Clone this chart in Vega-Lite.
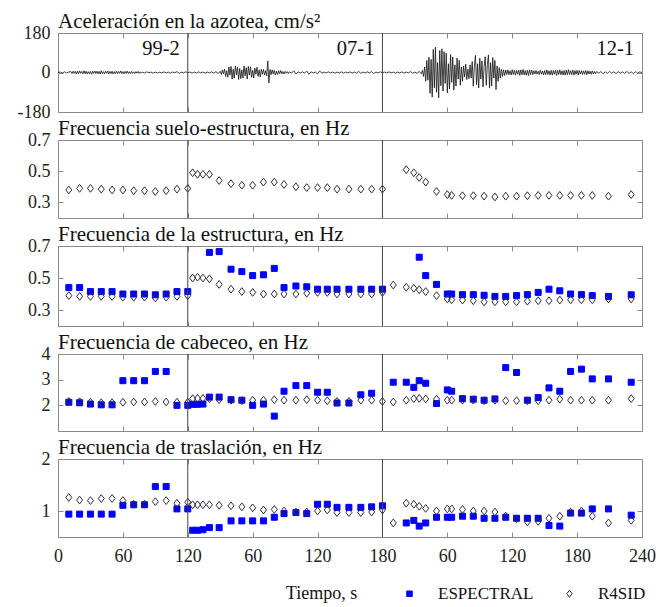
{
"$schema":"https://vega.github.io/schema/vega-lite/v6.json",
"padding":{"left":16,"top":10,"right":5,"bottom":5},
"background":"white",
"bounds":"flush",
"spacing":28,
"config":{
 "font":"Liberation Serif",
 "view":{"stroke":"#8a8a8a","strokeWidth":1},
 "axis":{"labelFont":"Liberation Serif","labelFontSize":18,"labelColor":"#222","tickColor":"#8a8a8a","tickSize":-5,"labelPadding":13,"domain":false,"grid":false,"titleFont":"Liberation Serif"},
 "title":{"font":"Liberation Serif","fontSize":21,"fontWeight":"normal","anchor":"start","frame":"group","color":"#111","offset":-8},
 "legend":{"labelFont":"Liberation Serif"}
},
"datasets":{
 "div":[{"t":120},{"t":300}],
 "rec":[{"end":120,"rec":"99-2"},{"end":300,"rec":"07-1"},{"end":540,"rec":"12-1"}],
 "acc":[
{"t":0,"a":0},{"t":2,"a":2},{"t":4,"a":-2},{"t":6,"a":3},{"t":8,"a":-2},{"t":10,"a":2},
{"t":12,"a":4},{"t":13,"a":-5},{"t":14,"a":6},{"t":15,"a":-4},{"t":16,"a":5},{"t":17,"a":-7},{"t":18,"a":6},{"t":19,"a":-5},{"t":20,"a":7},{"t":21,"a":-4},{"t":22,"a":5},{"t":23,"a":-6},{"t":24,"a":8},{"t":25,"a":-5},{"t":26,"a":6},{"t":27,"a":-7},{"t":28,"a":4},{"t":29,"a":-6},{"t":30,"a":5},{"t":31,"a":-8},{"t":32,"a":6},{"t":33,"a":-4},{"t":34,"a":7},{"t":35,"a":-5},{"t":36,"a":6},{"t":37,"a":-6},{"t":38,"a":5},{"t":39,"a":-7},{"t":40,"a":8},{"t":41,"a":-5},{"t":42,"a":4},{"t":43,"a":-6},{"t":44,"a":6},{"t":45,"a":-4},{"t":46,"a":7},{"t":47,"a":-6},{"t":48,"a":5},{"t":49,"a":-5},{"t":50,"a":6},{"t":51,"a":-7},{"t":52,"a":4},{"t":53,"a":-5},{"t":54,"a":6},{"t":55,"a":-6},{"t":56,"a":5},{"t":57,"a":-4},{"t":58,"a":7},{"t":59,"a":-5},{"t":60,"a":4},{"t":61,"a":-6},{"t":62,"a":5},{"t":63,"a":-4},{"t":64,"a":6},{"t":65,"a":-5},{"t":66,"a":4},{"t":67,"a":-6},{"t":68,"a":5},{"t":69,"a":-4},{"t":70,"a":3},{"t":71,"a":-5},{"t":72,"a":4},{"t":73,"a":-3},{"t":74,"a":5},{"t":75,"a":-4},{"t":76,"a":3},{"t":77,"a":-3},
{"t":78,"a":2},{"t":80,"a":-2},{"t":82,"a":3},{"t":84,"a":-1},{"t":86,"a":2},{"t":88,"a":-3},{"t":90,"a":2},{"t":92,"a":-2},{"t":94,"a":1},{"t":96,"a":-2},{"t":98,"a":3},{"t":100,"a":-2},{"t":102,"a":2},{"t":104,"a":-3},{"t":106,"a":2},{"t":108,"a":-1},{"t":110,"a":4},{"t":112,"a":-4},{"t":114,"a":2},{"t":116,"a":-2},{"t":118,"a":3},{"t":120,"a":-1},
{"t":122,"a":2},{"t":124,"a":-3},{"t":126,"a":2},{"t":128,"a":-2},{"t":130,"a":3},{"t":132,"a":-2},{"t":134,"a":2},{"t":136,"a":-3},{"t":138,"a":2},{"t":140,"a":-2},{"t":142,"a":3},{"t":144,"a":-3},{"t":146,"a":4},{"t":148,"a":-4},
{"t":150,"a":5},{"t":151,"a":-9},{"t":152,"a":12},{"t":153,"a":-6},{"t":154,"a":15},{"t":155,"a":-18},{"t":156,"a":8},{"t":157,"a":-22},{"t":158,"a":25},{"t":159,"a":-12},{"t":160,"a":28},{"t":161,"a":-30},{"t":162,"a":15},{"t":163,"a":-26},{"t":164,"a":30},{"t":165,"a":-10},{"t":166,"a":24},{"t":167,"a":-32},{"t":168,"a":18},{"t":169,"a":-28},{"t":170,"a":12},{"t":171,"a":-25},{"t":172,"a":30},{"t":173,"a":-15},{"t":174,"a":22},{"t":175,"a":-30},{"t":176,"a":28},{"t":177,"a":-12},{"t":178,"a":26},{"t":179,"a":-22},{"t":180,"a":10},{"t":181,"a":-25},{"t":182,"a":20},{"t":183,"a":-8},{"t":184,"a":24},{"t":185,"a":-18},{"t":186,"a":12},{"t":187,"a":-20},{"t":188,"a":15},{"t":189,"a":-8},{"t":190,"a":14},{"t":191,"a":-12},{"t":192,"a":8},{"t":193,"a":-15},{"t":194,"a":52},{"t":195,"a":-48},{"t":196,"a":14},{"t":197,"a":-10},{"t":198,"a":12},{"t":199,"a":-6},{"t":200,"a":10},{"t":201,"a":-12},{"t":202,"a":6},{"t":203,"a":-9},{"t":204,"a":8},{"t":205,"a":-5},{"t":206,"a":9},{"t":207,"a":-6},{"t":208,"a":4},{"t":209,"a":-7},{"t":210,"a":5},{"t":211,"a":-3},{"t":212,"a":4},{"t":213,"a":-5},{"t":214,"a":3},
{"t":216,"a":-3},{"t":218,"a":8},{"t":220,"a":-7},{"t":222,"a":3},{"t":224,"a":-2},{"t":226,"a":3},{"t":228,"a":-3},{"t":230,"a":7},{"t":232,"a":-8},{"t":234,"a":3},{"t":236,"a":-2},{"t":238,"a":2},{"t":240,"a":-6},{"t":242,"a":7},{"t":244,"a":-3},{"t":246,"a":2},{"t":248,"a":-2},{"t":250,"a":3},{"t":252,"a":-2},{"t":254,"a":2},{"t":256,"a":-3},{"t":258,"a":2},{"t":260,"a":-2},{"t":262,"a":3},{"t":264,"a":-3},{"t":266,"a":2},{"t":268,"a":-2},{"t":270,"a":3},{"t":272,"a":-2},{"t":274,"a":2},{"t":276,"a":-3},{"t":278,"a":5},{"t":280,"a":-4},{"t":282,"a":2},{"t":284,"a":-2},{"t":286,"a":3},{"t":288,"a":-2},{"t":290,"a":4},{"t":292,"a":-5},{"t":294,"a":2},{"t":296,"a":-2},{"t":298,"a":3},{"t":300,"a":-1},
{"t":302,"a":2},{"t":304,"a":-2},{"t":306,"a":3},{"t":308,"a":-2},{"t":310,"a":2},{"t":312,"a":-3},{"t":314,"a":2},{"t":316,"a":-2},{"t":318,"a":3},{"t":320,"a":-3},{"t":322,"a":2},{"t":324,"a":-2},{"t":326,"a":4},{"t":328,"a":-3},{"t":330,"a":2},{"t":332,"a":-4},{"t":334,"a":5},{"t":336,"a":-6},
{"t":337,"a":10},{"t":338,"a":-18},{"t":339,"a":25},{"t":340,"a":-40},{"t":341,"a":55},{"t":342,"a":-35},{"t":343,"a":70},{"t":344,"a":-95},{"t":345,"a":60},{"t":346,"a":-112},{"t":347,"a":105},{"t":348,"a":-70},{"t":349,"a":115},{"t":350,"a":-90},{"t":351,"a":45},{"t":352,"a":-115},{"t":353,"a":100},{"t":354,"a":-60},{"t":355,"a":108},{"t":356,"a":-85},{"t":357,"a":95},{"t":358,"a":-50},{"t":359,"a":88},{"t":360,"a":-92},{"t":361,"a":40},{"t":362,"a":-75},{"t":363,"a":82},{"t":364,"a":-45},{"t":365,"a":70},{"t":366,"a":-80},{"t":367,"a":35},{"t":368,"a":-62},{"t":369,"a":66},{"t":370,"a":-30},{"t":371,"a":55},{"t":372,"a":-58},{"t":373,"a":25},{"t":374,"a":-40},{"t":375,"a":30},{"t":376,"a":-20},{"t":377,"a":38},{"t":378,"a":-32},{"t":379,"a":15},{"t":380,"a":-28},{"t":381,"a":35},{"t":382,"a":-25},{"t":383,"a":50},{"t":384,"a":-62},{"t":385,"a":30},{"t":386,"a":78},{"t":387,"a":-55},{"t":388,"a":40},{"t":389,"a":-70},{"t":390,"a":65},{"t":391,"a":-30},{"t":392,"a":52},{"t":393,"a":-66},{"t":394,"a":28},{"t":395,"a":72},{"t":396,"a":-58},{"t":397,"a":35},{"t":398,"a":80},{"t":399,"a":-70},{"t":400,"a":45},{"t":401,"a":-62},{"t":402,"a":68},{"t":403,"a":-25},{"t":404,"a":55},{"t":405,"a":-78},{"t":406,"a":30},{"t":407,"a":-40},{"t":408,"a":22},{"t":409,"a":-25},{"t":410,"a":14},{"t":411,"a":-18},{"t":412,"a":12},{"t":413,"a":-14},
{"t":414,"a":11},{"t":415,"a":-9},{"t":416,"a":12},{"t":417,"a":-10},{"t":418,"a":8},{"t":419,"a":-11},{"t":420,"a":13},{"t":421,"a":-9},{"t":422,"a":10},{"t":423,"a":-12},{"t":424,"a":9},{"t":425,"a":-8},{"t":426,"a":11},{"t":427,"a":-13},{"t":428,"a":12},{"t":429,"a":-10},{"t":430,"a":14},{"t":431,"a":-11},{"t":432,"a":9},{"t":433,"a":-12},{"t":434,"a":10},{"t":435,"a":-14},{"t":436,"a":12},{"t":437,"a":-9},{"t":438,"a":11},{"t":439,"a":-10},{"t":440,"a":8},{"t":441,"a":-7},{"t":442,"a":9},{"t":443,"a":-8},{"t":444,"a":6},{"t":445,"a":-9},{"t":446,"a":10},{"t":447,"a":-8},{"t":448,"a":7},{"t":449,"a":-11},{"t":450,"a":9},{"t":451,"a":-10},{"t":452,"a":12},{"t":453,"a":-9},{"t":454,"a":8},{"t":455,"a":-11},{"t":456,"a":10},{"t":457,"a":-12},{"t":458,"a":9},{"t":459,"a":-8},{"t":460,"a":11},{"t":461,"a":-13},{"t":462,"a":10},{"t":463,"a":-9},{"t":464,"a":12},{"t":465,"a":-10},{"t":466,"a":8},{"t":467,"a":-11},{"t":468,"a":9},{"t":469,"a":-12},{"t":470,"a":11},{"t":471,"a":-10},{"t":472,"a":13},{"t":473,"a":-9},{"t":474,"a":8},{"t":475,"a":-10},{"t":476,"a":11},{"t":477,"a":-12},{"t":478,"a":9},{"t":479,"a":-8},{"t":480,"a":10},{"t":481,"a":-11},{"t":482,"a":9},{"t":483,"a":-7},{"t":484,"a":8},{"t":485,"a":-9},{"t":486,"a":7},{"t":487,"a":-8},{"t":488,"a":9},{"t":489,"a":-10},{"t":490,"a":8},{"t":491,"a":-7},{"t":492,"a":6},{"t":493,"a":-8},{"t":494,"a":7},{"t":495,"a":-6},{"t":496,"a":5},{"t":497,"a":-6},
{"t":498,"a":4},{"t":500,"a":-3},{"t":502,"a":4},{"t":504,"a":-5},{"t":506,"a":3},{"t":508,"a":-4},{"t":510,"a":5},{"t":512,"a":-3},{"t":514,"a":3},{"t":516,"a":-5},{"t":518,"a":4},{"t":520,"a":-3},{"t":522,"a":3},{"t":524,"a":-4},{"t":526,"a":5},{"t":528,"a":-4},{"t":530,"a":3},{"t":532,"a":-5},{"t":534,"a":4},{"t":536,"a":-3},{"t":538,"a":3},{"t":540,"a":-2}
 ],
 "p2":[
{"t":10,"s":"R","f":0.38},{"t":20,"s":"R","f":0.39},{"t":30,"s":"R","f":0.39},{"t":40,"s":"R","f":0.385},{"t":50,"s":"R","f":0.38},{"t":60,"s":"R","f":0.38},{"t":70,"s":"R","f":0.375},{"t":80,"s":"R","f":0.375},{"t":90,"s":"R","f":0.37},{"t":100,"s":"R","f":0.375},{"t":110,"s":"R","f":0.385},{"t":120,"s":"R","f":0.39},
{"t":124.5,"s":"R","f":0.49},{"t":129,"s":"R","f":0.48},{"t":134,"s":"R","f":0.48},{"t":140,"s":"R","f":0.48},{"t":149,"s":"R","f":0.44},{"t":160,"s":"R","f":0.42},{"t":170,"s":"R","f":0.41},{"t":180,"s":"R","f":0.41},{"t":190,"s":"R","f":0.43},{"t":200,"s":"R","f":0.43},{"t":209,"s":"R","f":0.415},{"t":220,"s":"R","f":0.40},{"t":230,"s":"R","f":0.395},{"t":240,"s":"R","f":0.395},{"t":249,"s":"R","f":0.395},{"t":258,"s":"R","f":0.385},{"t":269,"s":"R","f":0.385},{"t":280,"s":"R","f":0.385},{"t":290,"s":"R","f":0.385},{"t":300,"s":"R","f":0.385},
{"t":322,"s":"R","f":0.51},{"t":329,"s":"R","f":0.49},{"t":334,"s":"R","f":0.46},{"t":340,"s":"R","f":0.43},{"t":350,"s":"R","f":0.37},{"t":360,"s":"R","f":0.35},{"t":364,"s":"R","f":0.345},{"t":374,"s":"R","f":0.343},{"t":384,"s":"R","f":0.343},{"t":394,"s":"R","f":0.34},{"t":404,"s":"R","f":0.335},{"t":414,"s":"R","f":0.34},{"t":424,"s":"R","f":0.34},{"t":434,"s":"R","f":0.343},{"t":444,"s":"R","f":0.345},{"t":454,"s":"R","f":0.345},{"t":464,"s":"R","f":0.345},{"t":474,"s":"R","f":0.345},{"t":484,"s":"R","f":0.345},{"t":494,"s":"R","f":0.345},{"t":509,"s":"R","f":0.34},{"t":530,"s":"R","f":0.35}
 ],
 "p3":[
{"t":10,"s":"E","f":0.44},{"t":20,"s":"E","f":0.44},{"t":30,"s":"E","f":0.415},{"t":40,"s":"E","f":0.415},{"t":50,"s":"E","f":0.415},{"t":60,"s":"E","f":0.40},{"t":70,"s":"E","f":0.40},{"t":80,"s":"E","f":0.40},{"t":90,"s":"E","f":0.395},{"t":100,"s":"E","f":0.40},{"t":110,"s":"E","f":0.415},{"t":120,"s":"E","f":0.415},
{"t":140,"s":"E","f":0.66},{"t":149,"s":"E","f":0.665},{"t":160,"s":"E","f":0.555},{"t":170,"s":"E","f":0.54},{"t":180,"s":"E","f":0.515},{"t":190,"s":"E","f":0.52},{"t":200,"s":"E","f":0.56},{"t":209,"s":"E","f":0.44},{"t":220,"s":"E","f":0.45},{"t":230,"s":"E","f":0.445},{"t":240,"s":"E","f":0.43},{"t":249,"s":"E","f":0.43},{"t":258,"s":"E","f":0.43},{"t":269,"s":"E","f":0.43},{"t":280,"s":"E","f":0.43},{"t":290,"s":"E","f":0.43},{"t":300,"s":"E","f":0.43},
{"t":334,"s":"E","f":0.63},{"t":340,"s":"E","f":0.515},{"t":350,"s":"E","f":0.46},{"t":360,"s":"E","f":0.40},{"t":364,"s":"E","f":0.40},{"t":374,"s":"E","f":0.396},{"t":384,"s":"E","f":0.396},{"t":394,"s":"E","f":0.392},{"t":404,"s":"E","f":0.385},{"t":414,"s":"E","f":0.385},{"t":424,"s":"E","f":0.39},{"t":434,"s":"E","f":0.396},{"t":444,"s":"E","f":0.41},{"t":454,"s":"E","f":0.43},{"t":464,"s":"E","f":0.42},{"t":474,"s":"E","f":0.40},{"t":484,"s":"E","f":0.396},{"t":494,"s":"E","f":0.39},{"t":509,"s":"E","f":0.385},{"t":530,"s":"E","f":0.395},
{"t":10,"s":"R","f":0.39},{"t":20,"s":"R","f":0.385},{"t":30,"s":"R","f":0.385},{"t":40,"s":"R","f":0.385},{"t":50,"s":"R","f":0.385},{"t":60,"s":"R","f":0.38},{"t":70,"s":"R","f":0.38},{"t":80,"s":"R","f":0.38},{"t":90,"s":"R","f":0.375},{"t":100,"s":"R","f":0.38},{"t":110,"s":"R","f":0.385},{"t":120,"s":"R","f":0.39},
{"t":124.5,"s":"R","f":0.50},{"t":129,"s":"R","f":0.505},{"t":134,"s":"R","f":0.50},{"t":140,"s":"R","f":0.495},{"t":149,"s":"R","f":0.46},{"t":160,"s":"R","f":0.43},{"t":170,"s":"R","f":0.415},{"t":180,"s":"R","f":0.41},{"t":190,"s":"R","f":0.40},{"t":200,"s":"R","f":0.40},{"t":209,"s":"R","f":0.40},{"t":220,"s":"R","f":0.40},{"t":230,"s":"R","f":0.405},{"t":240,"s":"R","f":0.41},{"t":249,"s":"R","f":0.41},{"t":258,"s":"R","f":0.40},{"t":269,"s":"R","f":0.40},{"t":280,"s":"R","f":0.40},{"t":290,"s":"R","f":0.40},{"t":300,"s":"R","f":0.41},
{"t":310,"s":"R","f":0.456},{"t":322,"s":"R","f":0.442},{"t":329,"s":"R","f":0.436},{"t":334,"s":"R","f":0.427},{"t":340,"s":"R","f":0.415},{"t":350,"s":"R","f":0.39},{"t":360,"s":"R","f":0.369},{"t":364,"s":"R","f":0.364},{"t":374,"s":"R","f":0.362},{"t":384,"s":"R","f":0.358},{"t":394,"s":"R","f":0.351},{"t":404,"s":"R","f":0.351},{"t":414,"s":"R","f":0.351},{"t":424,"s":"R","f":0.351},{"t":434,"s":"R","f":0.355},{"t":444,"s":"R","f":0.358},{"t":454,"s":"R","f":0.358},{"t":464,"s":"R","f":0.362},{"t":474,"s":"R","f":0.364},{"t":484,"s":"R","f":0.364},{"t":494,"s":"R","f":0.364},{"t":509,"s":"R","f":0.369},{"t":530,"s":"R","f":0.369}
 ],
 "p4":[
{"t":10,"s":"E","f":2.12},{"t":20,"s":"E","f":2.1},{"t":30,"s":"E","f":2.05},{"t":40,"s":"E","f":2.02},{"t":50,"s":"E","f":2.02},{"t":60,"s":"E","f":2.96},{"t":70,"s":"E","f":2.96},{"t":80,"s":"E","f":2.96},{"t":90,"s":"E","f":3.32},{"t":100,"s":"E","f":3.32},{"t":110,"s":"E","f":2.0},{"t":120,"s":"E","f":2.0},
{"t":124.5,"s":"E","f":2.04},{"t":129,"s":"E","f":2.04},{"t":134,"s":"E","f":2.05},{"t":140,"s":"E","f":2.32},{"t":149,"s":"E","f":2.32},{"t":160,"s":"E","f":2.22},{"t":170,"s":"E","f":2.2},{"t":180,"s":"E","f":2.0},{"t":190,"s":"E","f":2.05},{"t":200,"s":"E","f":1.58},{"t":209,"s":"E","f":2.55},{"t":220,"s":"E","f":2.77},{"t":230,"s":"E","f":2.77},{"t":240,"s":"E","f":2.51},{"t":249,"s":"E","f":2.51},{"t":258,"s":"E","f":2.09},{"t":269,"s":"E","f":2.09},{"t":280,"s":"E","f":2.41},{"t":290,"s":"E","f":2.47},
{"t":310,"s":"E","f":2.9},{"t":322,"s":"E","f":2.9},{"t":329,"s":"E","f":2.7},{"t":334,"s":"E","f":2.96},{"t":340,"s":"E","f":2.86},{"t":350,"s":"E","f":2.07},{"t":360,"s":"E","f":2.6},{"t":364,"s":"E","f":2.55},{"t":374,"s":"E","f":2.26},{"t":384,"s":"E","f":2.24},{"t":394,"s":"E","f":2.2},{"t":404,"s":"E","f":2.25},{"t":414,"s":"E","f":3.47},{"t":424,"s":"E","f":3.28},{"t":434,"s":"E","f":2.2},{"t":444,"s":"E","f":2.3},{"t":454,"s":"E","f":2.68},{"t":464,"s":"E","f":2.55},{"t":474,"s":"E","f":3.32},{"t":484,"s":"E","f":3.41},{"t":494,"s":"E","f":3.03},{"t":509,"s":"E","f":3.03},{"t":530,"s":"E","f":2.9},
{"t":10,"s":"R","f":2.15},{"t":20,"s":"R","f":2.14},{"t":30,"s":"R","f":2.12},{"t":40,"s":"R","f":2.1},{"t":50,"s":"R","f":2.1},{"t":60,"s":"R","f":2.12},{"t":70,"s":"R","f":2.13},{"t":80,"s":"R","f":2.13},{"t":90,"s":"R","f":2.15},{"t":100,"s":"R","f":2.13},{"t":110,"s":"R","f":2.12},{"t":120,"s":"R","f":2.12},
{"t":124.5,"s":"R","f":2.26},{"t":129,"s":"R","f":2.27},{"t":134,"s":"R","f":2.27},{"t":140,"s":"R","f":2.26},{"t":149,"s":"R","f":2.22},{"t":160,"s":"R","f":2.2},{"t":170,"s":"R","f":2.18},{"t":180,"s":"R","f":2.2},{"t":190,"s":"R","f":2.2},{"t":200,"s":"R","f":2.22},{"t":209,"s":"R","f":2.2},{"t":220,"s":"R","f":2.2},{"t":230,"s":"R","f":2.22},{"t":240,"s":"R","f":2.2},{"t":249,"s":"R","f":2.18},{"t":258,"s":"R","f":2.15},{"t":269,"s":"R","f":2.15},{"t":280,"s":"R","f":2.2},{"t":290,"s":"R","f":2.2},{"t":300,"s":"R","f":2.15},
{"t":310,"s":"R","f":2.13},{"t":322,"s":"R","f":2.2},{"t":329,"s":"R","f":2.26},{"t":334,"s":"R","f":2.27},{"t":340,"s":"R","f":2.25},{"t":350,"s":"R","f":2.24},{"t":360,"s":"R","f":2.2},{"t":364,"s":"R","f":2.2},{"t":374,"s":"R","f":2.2},{"t":384,"s":"R","f":2.2},{"t":394,"s":"R","f":2.18},{"t":404,"s":"R","f":2.2},{"t":414,"s":"R","f":2.18},{"t":424,"s":"R","f":2.18},{"t":434,"s":"R","f":2.18},{"t":444,"s":"R","f":2.18},{"t":454,"s":"R","f":2.2},{"t":464,"s":"R","f":2.24},{"t":474,"s":"R","f":2.2},{"t":484,"s":"R","f":2.2},{"t":494,"s":"R","f":2.2},{"t":509,"s":"R","f":2.2},{"t":530,"s":"R","f":2.26}
 ],
 "p5":[
{"t":10,"s":"E","f":0.94},{"t":20,"s":"E","f":0.94},{"t":30,"s":"E","f":0.94},{"t":40,"s":"E","f":0.94},{"t":50,"s":"E","f":0.94},{"t":60,"s":"E","f":1.11},{"t":70,"s":"E","f":1.12},{"t":80,"s":"E","f":1.12},{"t":90,"s":"E","f":1.47},{"t":100,"s":"E","f":1.47},{"t":110,"s":"E","f":1.04},{"t":120,"s":"E","f":1.04},
{"t":124.5,"s":"E","f":0.63},{"t":129,"s":"E","f":0.63},{"t":134,"s":"E","f":0.64},{"t":140,"s":"E","f":0.68},{"t":149,"s":"E","f":0.68},{"t":160,"s":"E","f":0.81},{"t":170,"s":"E","f":0.81},{"t":180,"s":"E","f":0.81},{"t":190,"s":"E","f":0.81},{"t":200,"s":"E","f":0.88},{"t":209,"s":"E","f":0.95},{"t":220,"s":"E","f":0.97},{"t":230,"s":"E","f":0.95},{"t":240,"s":"E","f":1.13},{"t":249,"s":"E","f":1.13},{"t":258,"s":"E","f":1.07},{"t":269,"s":"E","f":1.07},{"t":280,"s":"E","f":1.07},{"t":290,"s":"E","f":1.08},{"t":300,"s":"E","f":1.1},
{"t":322,"s":"E","f":0.77},{"t":329,"s":"E","f":0.82},{"t":334,"s":"E","f":0.71},{"t":340,"s":"E","f":0.77},{"t":350,"s":"E","f":0.88},{"t":360,"s":"E","f":0.88},{"t":364,"s":"E","f":0.88},{"t":374,"s":"E","f":0.9},{"t":384,"s":"E","f":0.9},{"t":394,"s":"E","f":0.86},{"t":404,"s":"E","f":0.86},{"t":414,"s":"E","f":0.88},{"t":424,"s":"E","f":0.86},{"t":434,"s":"E","f":0.86},{"t":444,"s":"E","f":0.86},{"t":454,"s":"E","f":0.72},{"t":464,"s":"E","f":0.71},{"t":474,"s":"E","f":0.96},{"t":484,"s":"E","f":0.96},{"t":494,"s":"E","f":1.04},{"t":509,"s":"E","f":1.04},{"t":530,"s":"E","f":0.92},
{"t":10,"s":"R","f":1.26},{"t":20,"s":"R","f":1.21},{"t":30,"s":"R","f":1.2},{"t":40,"s":"R","f":1.24},{"t":50,"s":"R","f":1.24},{"t":60,"s":"R","f":1.2},{"t":70,"s":"R","f":1.13},{"t":80,"s":"R","f":1.13},{"t":90,"s":"R","f":1.18},{"t":100,"s":"R","f":1.2},{"t":110,"s":"R","f":1.15},{"t":120,"s":"R","f":1.17},
{"t":124.5,"s":"R","f":1.12},{"t":129,"s":"R","f":1.12},{"t":134,"s":"R","f":1.12},{"t":140,"s":"R","f":1.12},{"t":149,"s":"R","f":1.11},{"t":160,"s":"R","f":1.1},{"t":170,"s":"R","f":1.08},{"t":180,"s":"R","f":1.06},{"t":190,"s":"R","f":1.02},{"t":200,"s":"R","f":1.03},{"t":209,"s":"R","f":1.0},{"t":220,"s":"R","f":0.98},{"t":230,"s":"R","f":0.98},{"t":240,"s":"R","f":1.0},{"t":249,"s":"R","f":1.02},{"t":258,"s":"R","f":0.97},{"t":269,"s":"R","f":0.97},{"t":280,"s":"R","f":0.97},{"t":290,"s":"R","f":0.98},{"t":300,"s":"R","f":1.02},
{"t":310,"s":"R","f":0.77},{"t":322,"s":"R","f":1.15},{"t":329,"s":"R","f":1.13},{"t":334,"s":"R","f":1.09},{"t":340,"s":"R","f":1.05},{"t":350,"s":"R","f":1.0},{"t":360,"s":"R","f":1.04},{"t":364,"s":"R","f":1.04},{"t":374,"s":"R","f":1.03},{"t":384,"s":"R","f":1.0},{"t":394,"s":"R","f":1.0},{"t":404,"s":"R","f":0.98},{"t":414,"s":"R","f":0.9},{"t":424,"s":"R","f":0.85},{"t":434,"s":"R","f":0.79},{"t":444,"s":"R","f":0.8},{"t":454,"s":"R","f":0.86},{"t":464,"s":"R","f":0.9},{"t":474,"s":"R","f":0.98},{"t":484,"s":"R","f":1.0},{"t":494,"s":"R","f":0.9},{"t":509,"s":"R","f":0.77},{"t":530,"s":"R","f":0.82}
 ]
},
"vconcat":[
 {
  "title":"Aceleración en la azotea, cm/s²",
  "width":584,"height":79,
  "layer":[
   {"data":{"name":"acc"},"mark":{"type":"line","color":"#111","strokeWidth":0.8},
    "encoding":{
     "x":{"field":"t","type":"quantitative","scale":{"domain":[0,540],"nice":false},"axis":{"orient":"bottom","values":[0,60,120,180,240,300,360,420,480,540],"labels":false,"title":null}},
     "y":{"field":"a","type":"quantitative","scale":{"domain":[-180,180],"nice":false},"axis":{"orient":"left","values":[-180,0,180],"labelExpr":"datum.value < 0 ? '-' + format(-datum.value, 'd') : format(datum.value, 'd')","title":null}}}},
   {"data":{"name":"div"},"mark":{"type":"point","opacity":0},
    "encoding":{
     "x":{"field":"t","type":"quantitative","axis":{"orient":"top","values":[0,60,120,180,240,300,360,420,480,540],"labels":false,"labelPadding":0,"minExtent":0,"maxExtent":0,"title":null}},
     "y":{"datum":0,"type":"quantitative","axis":{"orient":"right","values":[-180,0,180],"labels":false,"labelPadding":0,"minExtent":0,"maxExtent":0,"title":null}}}},
   {"data":{"name":"div"},"mark":{"type":"rule","color":"#454545","strokeWidth":1},
    "encoding":{"x":{"field":"t","type":"quantitative","axis":null}}},
   {"data":{"name":"rec"},"mark":{"type":"text","align":"right","baseline":"middle","dx":-8,"fontSize":20.5,"font":"Liberation Serif","color":"#111"},
    "encoding":{"x":{"field":"end","type":"quantitative","axis":null},"y":{"datum":109,"type":"quantitative","axis":null},"text":{"field":"rec"}}}
  ],
  "resolve":{"axis":{"x":"independent","y":"independent"}}
 },
 {
  "title":"Frecuencia suelo-estructura, en Hz",
  "width":584,"height":78,
  "layer":[
   {"data":{"name":"p2"},"mark":{"type":"point","size":36,"strokeWidth":1,"filled":true,"opacity":1},
    "encoding":{
     "x":{"field":"t","type":"quantitative","scale":{"domain":[0,540],"nice":false},"axis":{"orient":"bottom","values":[0,60,120,180,240,300,360,420,480,540],"labels":false,"title":null}},
     "y":{"field":"f","type":"quantitative","scale":{"domain":[0.2,0.7],"nice":false,"zero":false},"axis":{"orient":"left","values":[0.3,0.5,0.7],"format":".1f","title":null}},
     "fill":{"field":"s","type":"nominal","scale":{"domain":["E","R"],"range":["#0000ff","transparent"]}},
     "stroke":{"field":"s","type":"nominal","scale":{"domain":["E","R"],"range":["#0000ff","#2e2e40"]}},
     "shape":{"field":"s","type":"nominal","scale":{"domain":["E","R"],"range":["square","M0,-1.3L1,0L0,1.3L-1,0Z"]},
      "legend":{"title":null,"orient":"none","legendX":343,"legendY":552,"direction":"horizontal","labelFontSize":17,"labelFont":"Liberation Serif","labelColor":"#111","symbolSize":30,"symbolStrokeWidth":1,"labelOffset":20,"columnPadding":27,"labelExpr":"datum.label == 'E' ? 'ESPECTRAL' : 'R4SID'"}}}},
   {"data":{"name":"div"},"mark":{"type":"point","opacity":0},
    "encoding":{
     "x":{"field":"t","type":"quantitative","axis":{"orient":"top","values":[0,60,120,180,240,300,360,420,480,540],"labels":false,"labelPadding":0,"minExtent":0,"maxExtent":0,"title":null}},
     "y":{"datum":0.3,"type":"quantitative","axis":{"orient":"right","values":[0.3,0.5,0.7],"labels":false,"labelPadding":0,"minExtent":0,"maxExtent":0,"title":null}}}},
   {"data":{"name":"div"},"mark":{"type":"rule","color":"#454545","strokeWidth":1},
    "encoding":{"x":{"field":"t","type":"quantitative","axis":null}}}
  ],
  "resolve":{"axis":{"x":"independent","y":"independent"}}
 },
 {
  "title":"Frecuencia de la estructura, en Hz",
  "width":584,"height":80,
  "layer":[
   {"data":{"name":"p3"},"mark":{"type":"point","size":36,"strokeWidth":1,"filled":true,"opacity":1},
    "encoding":{
     "x":{"field":"t","type":"quantitative","scale":{"domain":[0,540],"nice":false},"axis":{"orient":"bottom","values":[0,60,120,180,240,300,360,420,480,540],"labels":false,"title":null}},
     "y":{"field":"f","type":"quantitative","scale":{"domain":[0.2,0.7],"nice":false,"zero":false},"axis":{"orient":"left","values":[0.3,0.5,0.7],"format":".1f","title":null}},
     "fill":{"field":"s","type":"nominal","scale":{"domain":["E","R"],"range":["#0000ff","transparent"]}},
     "stroke":{"field":"s","type":"nominal","scale":{"domain":["E","R"],"range":["#0000ff","#2e2e40"]}},
     "shape":{"field":"s","type":"nominal","scale":{"domain":["E","R"],"range":["square","M0,-1.3L1,0L0,1.3L-1,0Z"]}}}},
   {"data":{"name":"div"},"mark":{"type":"point","opacity":0},
    "encoding":{
     "x":{"field":"t","type":"quantitative","axis":{"orient":"top","values":[0,60,120,180,240,300,360,420,480,540],"labels":false,"labelPadding":0,"minExtent":0,"maxExtent":0,"title":null}},
     "y":{"datum":0.3,"type":"quantitative","axis":{"orient":"right","values":[0.3,0.5,0.7],"labels":false,"labelPadding":0,"minExtent":0,"maxExtent":0,"title":null}}}},
   {"data":{"name":"div"},"mark":{"type":"rule","color":"#454545","strokeWidth":1},
    "encoding":{"x":{"field":"t","type":"quantitative","axis":null}}}
  ],
  "resolve":{"axis":{"x":"independent","y":"independent"}}
 },
 {
  "title":"Frecuencia de cabeceo, en Hz",
  "width":584,"height":77,
  "layer":[
   {"data":{"name":"p4"},"mark":{"type":"point","size":36,"strokeWidth":1,"filled":true,"opacity":1},
    "encoding":{
     "x":{"field":"t","type":"quantitative","scale":{"domain":[0,540],"nice":false},"axis":{"orient":"bottom","values":[0,60,120,180,240,300,360,420,480,540],"labels":false,"title":null}},
     "y":{"field":"f","type":"quantitative","scale":{"domain":[1,4],"nice":false,"zero":false},"axis":{"orient":"left","values":[2,3,4],"format":"d","title":null}},
     "fill":{"field":"s","type":"nominal","scale":{"domain":["E","R"],"range":["#0000ff","transparent"]}},
     "stroke":{"field":"s","type":"nominal","scale":{"domain":["E","R"],"range":["#0000ff","#2e2e40"]}},
     "shape":{"field":"s","type":"nominal","scale":{"domain":["E","R"],"range":["square","M0,-1.3L1,0L0,1.3L-1,0Z"]}}}},
   {"data":{"name":"div"},"mark":{"type":"point","opacity":0},
    "encoding":{
     "x":{"field":"t","type":"quantitative","axis":{"orient":"top","values":[0,60,120,180,240,300,360,420,480,540],"labels":false,"labelPadding":0,"minExtent":0,"maxExtent":0,"title":null}},
     "y":{"datum":2,"type":"quantitative","axis":{"orient":"right","values":[2,3,4],"labels":false,"labelPadding":0,"minExtent":0,"maxExtent":0,"title":null}}}},
   {"data":{"name":"div"},"mark":{"type":"rule","color":"#454545","strokeWidth":1},
    "encoding":{"x":{"field":"t","type":"quantitative","axis":null}}}
  ],
  "resolve":{"axis":{"x":"independent","y":"independent"}}
 },
 {
  "title":"Frecuencia de traslación, en Hz",
  "width":584,"height":78,
  "layer":[
   {"data":{"name":"p5"},"mark":{"type":"point","size":36,"strokeWidth":1,"filled":true,"opacity":1},
    "encoding":{
     "x":{"field":"t","type":"quantitative","scale":{"domain":[0,540],"nice":false},"axis":{"orient":"bottom","values":[0,60,120,180,240,300,360,420,480,540],"labels":true,"labelFlush":false,"labelPadding":15,"labelColor":"#222","labelExpr":"'' + (datum.value <= 120 ? datum.value : datum.value <= 300 ? datum.value - 120 : datum.value - 300)","title":"Tiempo, s","titleX":263,"titleY":61,"titleFontSize":18,"titleFontWeight":"normal","titleColor":"#111","titleBaseline":"alphabetic","titleAlign":"center"}},
     "y":{"field":"f","type":"quantitative","scale":{"domain":[0.5,2],"nice":false,"zero":false},"axis":{"orient":"left","values":[1,2],"format":"d","title":null}},
     "fill":{"field":"s","type":"nominal","scale":{"domain":["E","R"],"range":["#0000ff","transparent"]}},
     "stroke":{"field":"s","type":"nominal","scale":{"domain":["E","R"],"range":["#0000ff","#2e2e40"]}},
     "shape":{"field":"s","type":"nominal","scale":{"domain":["E","R"],"range":["square","M0,-1.3L1,0L0,1.3L-1,0Z"]}}}},
   {"data":{"name":"div"},"mark":{"type":"point","opacity":0},
    "encoding":{
     "x":{"field":"t","type":"quantitative","axis":{"orient":"top","values":[0,60,120,180,240,300,360,420,480,540],"labels":false,"labelPadding":0,"minExtent":0,"maxExtent":0,"title":null}},
     "y":{"datum":1,"type":"quantitative","axis":{"orient":"right","values":[1,2],"labels":false,"labelPadding":0,"minExtent":0,"maxExtent":0,"title":null}}}},
   {"data":{"name":"div"},"mark":{"type":"rule","color":"#454545","strokeWidth":1},
    "encoding":{"x":{"field":"t","type":"quantitative","axis":null}}}
  ],
  "resolve":{"axis":{"x":"independent","y":"independent"}}
 }
]
}
